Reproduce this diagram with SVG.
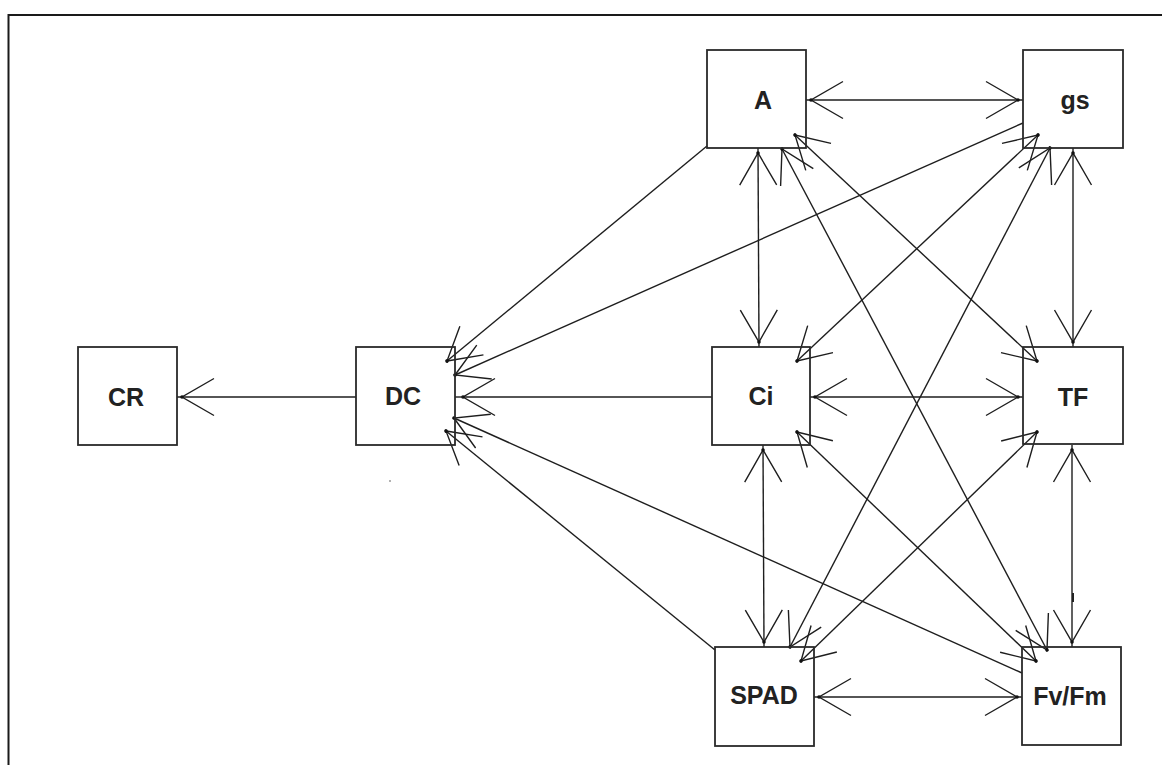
<svg xmlns="http://www.w3.org/2000/svg" width="1162" height="765" viewBox="0 0 1162 765">
<style>
.frame{stroke:#1a1a1a;stroke-width:2;fill:none}
.box{fill:none;stroke:#2a2a2a;stroke-width:1.8}
.lbl{font-family:"Liberation Sans",Arial,sans-serif;font-weight:bold;font-size:25px;fill:#222;text-anchor:middle}
.e{stroke:#1e1e1e;stroke-width:1.4;fill:none}
.ax{marker-end:url(#h5)}
.ax2{marker-start:url(#h5);marker-end:url(#h5)}
.dg{marker-end:url(#h)}
.dg2{marker-start:url(#h);marker-end:url(#h)}
</style>
<defs>
<marker id="h" markerUnits="userSpaceOnUse" orient="auto-start-reverse" overflow="visible" markerWidth="1" markerHeight="1" refX="0" refY="0">
<path d="M-32,-18.5 L0,0 L-32,18.5" fill="none" stroke="#1e1e1e" stroke-width="1.4"/>
<circle cx="0" cy="0" r="1.8" fill="#111"/>
</marker>
<marker id="h5" markerUnits="userSpaceOnUse" orient="auto-start-reverse" overflow="visible" markerWidth="1" markerHeight="1" refX="0" refY="0">
<path d="M-37,-18.5 L-5,0 L-37,18.5" fill="none" stroke="#1e1e1e" stroke-width="1.4"/>
<circle cx="-5" cy="0" r="1.8" fill="#111"/>
</marker>
</defs>
<rect width="1162" height="765" fill="#ffffff"/>
<path class="frame" d="M8.5,765 L8.5,15 L1162,15"/>

<g id="connectors">
<line class="e ax" x1="356" y1="397" x2="177" y2="397"/>
<line class="e" x1="712" y1="397" x2="463" y2="397" marker-end="url(#h)"/>
<line class="e" x1="463" y1="397" x2="455" y2="397"/>
<line class="e ax2" x1="806" y1="100" x2="1023" y2="100"/>
<line class="e ax2" x1="810" y1="397" x2="1023" y2="397"/>
<line class="e ax2" x1="814" y1="697" x2="1022" y2="697"/>
<line class="e ax2" x1="758" y1="148" x2="759" y2="347"/>
<line class="e ax2" x1="1073" y1="148" x2="1073" y2="347"/>
<line class="e ax2" x1="1072" y1="445" x2="1072" y2="647"/>
<line class="e ax2" x1="763" y1="445" x2="764" y2="647"/>
<line class="e dg" x1="707" y1="146" x2="447" y2="361"/>
<line class="e dg" x1="1023" y1="123" x2="455" y2="375"/>
<line class="e dg" x1="1022" y1="673" x2="454" y2="418"/>
<line class="e dg" x1="715" y1="650" x2="446" y2="431"/>
<line class="e dg2" x1="795" y1="135" x2="1037" y2="361"/>
<line class="e dg2" x1="797" y1="432" x2="1036" y2="661"/>
<line class="e dg2" x1="1038" y1="135" x2="797" y2="361"/>
<line class="e dg2" x1="1037" y1="432" x2="801" y2="661"/>
<line class="e dg2" x1="1050" y1="148" x2="790" y2="647"/>
<line class="e dg2" x1="782" y1="149" x2="1047" y2="650"/>
<rect x="1072" y="593" width="2" height="9" fill="#222"/>
<circle cx="390" cy="481" r="1" fill="#999"/>
</g>

<g id="node-CR"><rect class="box" x="78" y="347" width="99" height="98"/><text class="lbl" x="126" y="406">CR</text></g>
<g id="node-DC"><rect class="box" x="356" y="347" width="99" height="98"/><text class="lbl" x="403" y="405">DC</text></g>
<g id="node-A"><rect class="box" x="707" y="50" width="99" height="98"/><text class="lbl" x="763" y="109">A</text></g>
<g id="node-gs"><rect class="box" x="1023" y="50" width="100" height="98"/><text class="lbl" x="1075" y="109">gs</text></g>
<g id="node-Ci"><rect class="box" x="712" y="347" width="98" height="98"/><text class="lbl" x="761" y="405">Ci</text></g>
<g id="node-TF"><rect class="box" x="1023" y="347" width="100" height="97"/><text class="lbl" x="1073" y="406">TF</text></g>
<g id="node-SPAD"><rect class="box" x="715" y="647" width="99" height="99"/><text class="lbl" x="764" y="704">SPAD</text></g>
<g id="node-FvFm"><rect class="box" x="1022" y="647" width="99" height="98"/><text class="lbl" x="1070" y="705">Fv/Fm</text></g>
</svg>
